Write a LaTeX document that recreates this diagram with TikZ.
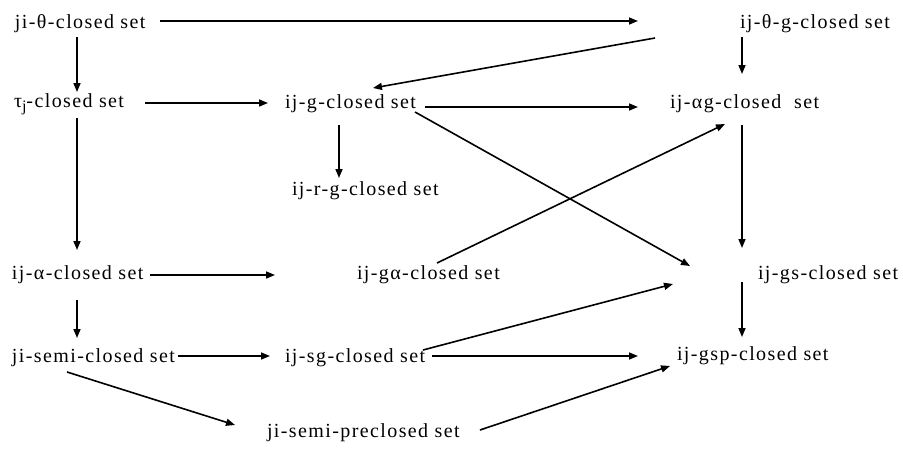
\documentclass[tikz,border=0pt]{standalone}
\usepackage{fontspec}
\setmainfont{Liberation Serif}[LetterSpace=7]
\usetikzlibrary{arrows.meta}
\tikzset{
  setlabel/.style={anchor=base west, inner sep=0pt, outer sep=0pt,
    font=\fontsize{20}{24}\selectfont},
  implies/.style={line width=1.6pt, -{Triangle[length=9pt,width=7pt]}}
}
\begin{document}
\begin{tikzpicture}[x=1pt,y=-1pt]
\useasboundingbox (0,0) rectangle (903,448);
% the thirteen classes of closed sets
\node[setlabel] (jt)   at (15,28)  {ji-θ-closed set};
\node[setlabel] (itg)  at (740,28) {ij-θ-g-closed set};
\node[setlabel] (tau)  at (14,107) {τ\raisebox{-4pt}{\fontsize{16}{16}\selectfont j}-closed set};
\node[setlabel] (ig)   at (285,108) {ij-g-closed set};
\node[setlabel] (iag)  at (670,108) {ij-αg-closed\ \ set};
\node[setlabel] (irg)  at (292,195) {ij-r-g-closed set};
\node[setlabel] (ia)   at (12,279) {ij-α-closed set};
\node[setlabel] (iga)  at (357,279) {ij-gα-closed set};
\node[setlabel] (igs)  at (758,279) {ij-gs-closed set};
\node[setlabel] (js)   at (12,362) {ji-semi-closed set};
\node[setlabel] (isg)  at (285,362) {ij-sg-closed set};
\node[setlabel] (igsp) at (677,360) {ij-gsp-closed set};
\node[setlabel] (jsp)  at (267,437) {ji-semi-preclosed set};
% implications
\draw[implies] ([shift={(145,-7)}]jt.base west) -- ([shift={(-102,-7)}]itg.base west);
\draw[implies] ([shift={(62,9)}]jt.base west) -- ([shift={(63,-15)}]tau.base west);
\draw[implies] ([shift={(-85,10)}]itg.base west) -- ([shift={(88,-20)}]ig.base west);
\draw[implies] ([shift={(2,9)}]itg.base west) -- ([shift={(72,-34)}]iag.base west);
\draw[implies] ([shift={(131,-4)}]tau.base west) -- ([shift={(-17,-5)}]ig.base west);
\draw[implies] ([shift={(140,-1)}]ig.base west) -- ([shift={(-32,-1)}]iag.base west);
\draw[implies] ([shift={(54,17)}]ig.base west) -- ([shift={(47,-17)}]irg.base west);
\draw[implies] ([shift={(63,11)}]tau.base west) -- ([shift={(65,-29)}]ia.base west);
\draw[implies] ([shift={(72,17)}]iag.base west) -- ([shift={(-16,-31)}]igs.base west);
\draw[implies] ([shift={(130,4)}]ig.base west) -- ([shift={(-68,-13)}]igs.base west);
\draw[implies] ([shift={(80,-16)}]iga.base west) -- ([shift={(55,16)}]iag.base west);
\draw[implies] ([shift={(138,-4)}]ia.base west) -- ([shift={(-82,-4)}]iga.base west);
\draw[implies] ([shift={(-16,3)}]igs.base west) -- ([shift={(65,-23)}]igsp.base west);
\draw[implies] ([shift={(65,21)}]ia.base west) -- ([shift={(65,-24)}]js.base west);
\draw[implies] ([shift={(166,-6)}]js.base west) -- ([shift={(-15,-6)}]isg.base west);
\draw[implies] ([shift={(138,-12)}]isg.base west) -- ([shift={(-85,5)}]igs.base west);
\draw[implies] ([shift={(147,-6)}]isg.base west) -- ([shift={(-39,-4)}]igsp.base west);
\draw[implies] ([shift={(55,10)}]js.base west) -- ([shift={(-32,-12)}]jsp.base west);
\draw[implies] ([shift={(213,-7)}]jsp.base west) -- ([shift={(-7,6)}]igsp.base west);
\end{tikzpicture}
\end{document}
